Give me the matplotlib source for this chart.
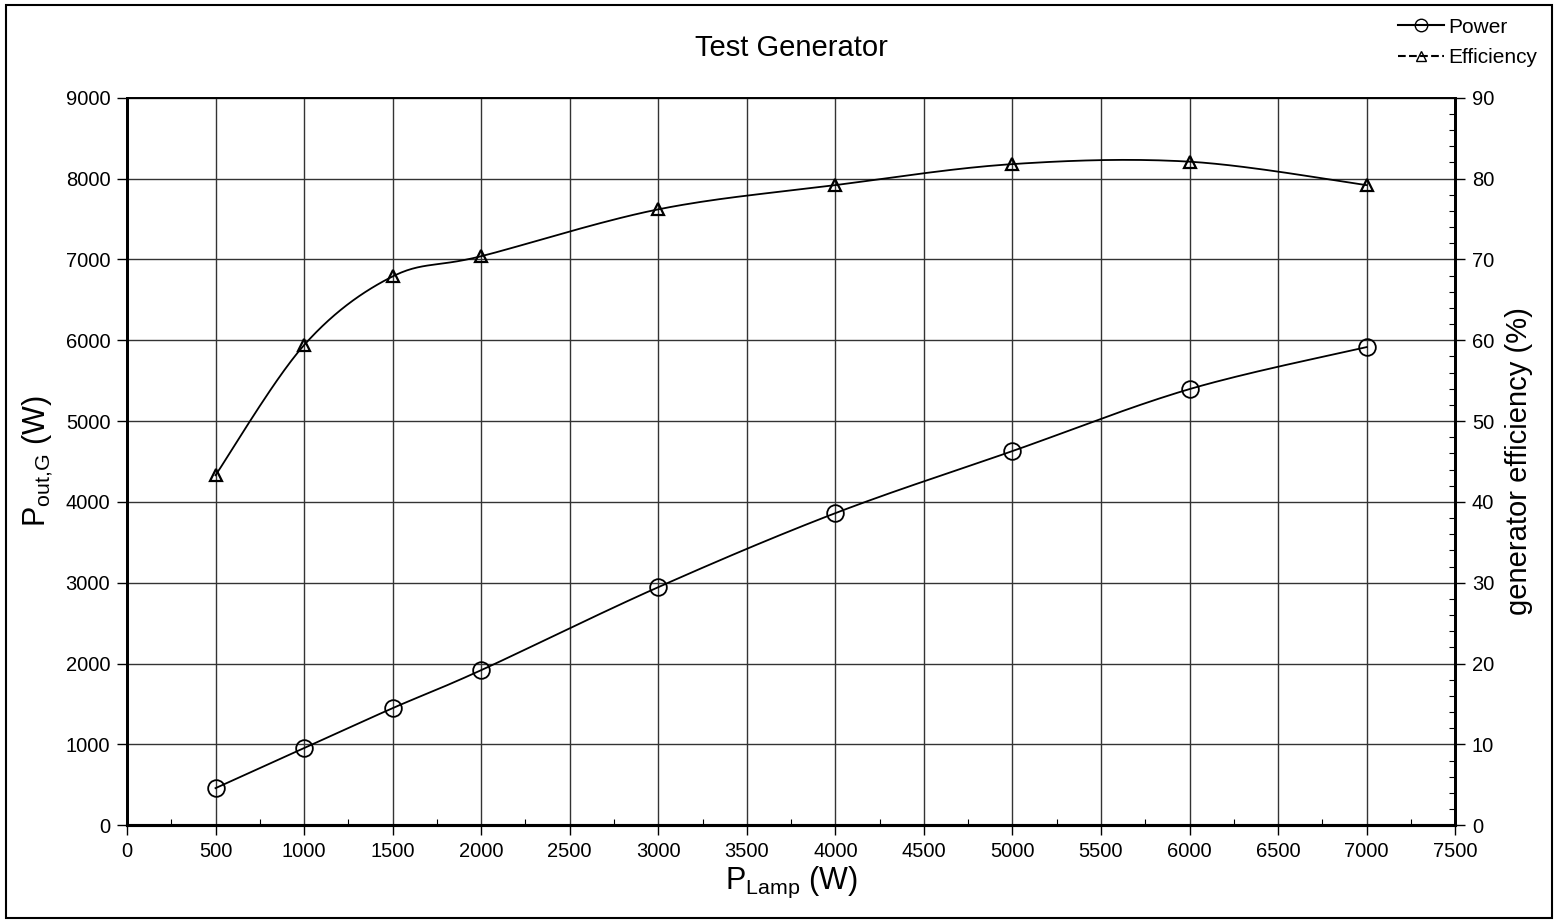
import matplotlib
matplotlib.use('Agg')
import matplotlib.pyplot as plt
import numpy as np
from matplotlib.lines import Line2D
from matplotlib.patches import Rectangle

plt.rcParams['font.family'] = ['Liberation Sans', 'DejaVu Sans']

# data
p_lamp = [500, 1000, 1500, 2000, 3000, 4000, 5000, 6000, 7000]
power = [458, 953, 1448, 1918, 2945, 3861, 4629, 5396, 5916]
efficiency = [43.3, 59.4, 67.9, 70.4, 76.2, 79.2, 81.8, 82.1, 79.2]


def smooth(x, y, n=30):
    # Excel-style smoothed line (Bezier through points, Catmull-Rom controls)
    x = np.asarray(x, float)
    y = np.asarray(y, float)
    px = np.concatenate([[x[0]], x, [x[-1]]])
    py = np.concatenate([[y[0]], y, [y[-1]]])
    xs, ys = [], []
    t = np.linspace(0, 1, n)
    for i in range(1, len(px) - 2):
        p0 = np.array([px[i], py[i]])
        p3 = np.array([px[i + 1], py[i + 1]])
        c1 = p0 + (np.array([px[i + 1], py[i + 1]]) - np.array([px[i - 1], py[i - 1]])) / 6
        c2 = p3 - (np.array([px[i + 2], py[i + 2]]) - np.array([px[i], py[i]])) / 6
        b = ((1 - t) ** 3)[:, None] * p0 + (3 * (1 - t) ** 2 * t)[:, None] * c1 \
            + (3 * (1 - t) * t ** 2)[:, None] * c2 + (t ** 3)[:, None] * p3
        xs.extend(b[:, 0])
        ys.extend(b[:, 1])
    return np.array(xs), np.array(ys)


fig = plt.figure(figsize=(15.58, 9.23), dpi=100)
ax = fig.add_axes([0.0815, 0.106, 0.8525, 0.788])
ax2 = ax.twinx()

# outer frame
fig.patches.append(Rectangle((0.004, 0.005), 0.992, 0.99, transform=fig.transFigure,
                             fill=False, edgecolor='black', linewidth=1.5))

sx, sy = smooth(p_lamp, power)
ax.plot(sx, sy, color='black', lw=1.3)
ax.plot(p_lamp, power, 'o', mfc='none', mec='black', ms=12, mew=1.3)

ex, ey = smooth(p_lamp, efficiency)
ax2.plot(ex, ey, color='black', lw=1.3)
ax2.plot(p_lamp, efficiency, '^', mfc='none', mec='black', ms=9, mew=1.6)

ax.set_xlim(0, 7500)
ax.set_ylim(0, 9000)
ax2.set_ylim(0, 90)
ax.set_xticks(np.arange(0, 7501, 500))
ax.set_xticks(np.arange(0, 7501, 250), minor=True)
ax.set_yticks(np.arange(0, 9001, 1000))
ax2.set_yticks(np.arange(0, 91, 10))
ax2.set_yticks(np.arange(0, 91, 2), minor=True)

ax.grid(True, which='major', color='#333333', lw=1.0)
ax.tick_params(which='major', direction='out', length=7, width=1, labelsize=14.5, pad=5)
ax.tick_params(axis='x', which='minor', direction='in', length=4, width=0.8)
ax.tick_params(axis='y', which='minor', left=False)
ax2.tick_params(which='major', direction='out', length=7, width=1, labelsize=14.5, pad=5)
ax2.tick_params(which='minor', direction='in', length=4, width=0.8)

for a in (ax, ax2):
    for s in a.spines.values():
        s.set_linewidth(1.2)
    a.spines['left'].set_linewidth(2)
    a.spines['bottom'].set_linewidth(2.2)
    a.spines['right'].set_linewidth(2)

ax.set_xlabel(r'P$_{\mathregular{Lamp}}$ (W)', fontsize=22, labelpad=3)
ax.set_ylabel(r'P$_{\mathregular{out{,}G}}$ (W)', fontsize=22, labelpad=8)
ax2.set_ylabel('generator efficiency (%)', fontsize=21, labelpad=8)
ax.set_title('Test Generator', fontsize=21, pad=30)

handles = [
    Line2D([], [], color='black', marker='o', mfc='none', ms=9, lw=1.5, label='Power'),
    Line2D([], [], color='black', marker='^', mfc='none', ms=7, lw=1.5, ls='--', label='Efficiency'),
]
fig.legend(handles=handles, loc='upper right', bbox_to_anchor=(0.992, 0.99), frameon=False,
           fontsize=15, handlelength=2.2, handletextpad=0.2, labelspacing=0.55, borderaxespad=0)

fig.savefig('out.png', dpi=100)
